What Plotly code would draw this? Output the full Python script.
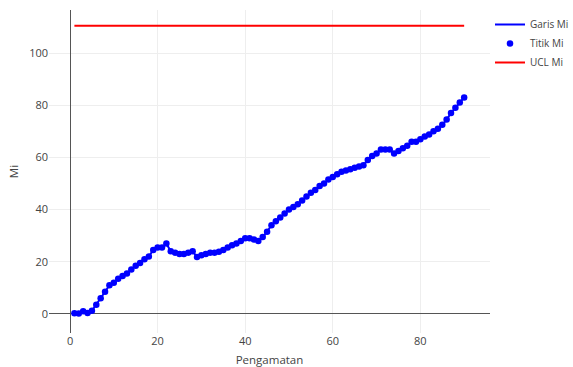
import plotly.graph_objects as go

pengamatan = list(range(1, 91))
mi = [0.3, 0.2, 1.0, 0.4, 1.2, 3.5, 6.0, 8.5, 11.0, 12.0,
      13.5, 14.5, 15.5, 17.0, 18.5, 19.5, 21.0, 22.0, 24.5, 25.5,
      25.5, 27.0, 24.0, 23.5, 23.0, 23.0, 23.5, 24.0, 21.8, 22.5,
      23.0, 23.5, 23.5, 23.8, 24.5, 25.5, 26.3, 27.0, 28.0, 29.0,
      29.0, 28.5, 28.0, 29.5, 31.5, 34.0, 35.5, 37.0, 38.5, 40.0,
      41.0, 42.0, 43.5, 45.0, 46.5, 47.5, 49.0, 50.0, 51.5, 52.5,
      53.5, 54.5, 55.0, 55.5, 56.0, 56.5, 57.0, 59.0, 60.5, 61.5,
      63.0, 63.0, 63.0, 61.5, 62.5, 63.5, 64.5, 66.0, 66.0, 67.0,
      68.0, 68.8, 70.0, 71.0, 72.5, 74.5, 77.0, 79.0, 81.0, 83.0]
ucl_value = 110.5
ucl = [ucl_value] * len(pengamatan)

fig = go.Figure()
fig.add_trace(go.Scatter(x=pengamatan, y=mi, mode="lines", name="Garis Mi",
                         line=dict(color="blue", width=2)))
fig.add_trace(go.Scatter(x=pengamatan, y=mi, mode="markers", name="Titik Mi",
                         marker=dict(color="blue", size=6.5)))
fig.add_trace(go.Scatter(x=pengamatan, y=ucl, mode="lines", name="UCL Mi",
                         line=dict(color="red", width=2)))

fig.update_layout(
    width=573, height=367,
    margin=dict(l=49, r=83, t=10, b=34, autoexpand=False),
    paper_bgcolor="white", plot_bgcolor="white",
    font=dict(family="Open Sans, sans-serif", size=11, color="#444"),
    legend=dict(x=1.0, xanchor="left", y=1, yanchor="top",
                font=dict(size=10)),
)
fig.update_xaxes(title=dict(text="Pengamatan", font=dict(size=11.5)),
                 range=[-4.8, 95.9],
                 automargin=False,
                 showgrid=True, gridcolor="#eeeeee",
                 zeroline=True, zerolinecolor="#555", zerolinewidth=1,
                 tickvals=[0, 20, 40, 60, 80])
fig.update_yaxes(title=dict(text="Mi", font=dict(size=11.5), standoff=8),
                 range=[-7.3, 116.5],
                 automargin=False,
                 showgrid=True, gridcolor="#eeeeee",
                 zeroline=True, zerolinecolor="#555", zerolinewidth=1,
                 tickvals=[0, 20, 40, 60, 80, 100])

fig.write_html(
    "out.html",
    config={"displayModeBar": False},
    post_script="document.body.style.margin='0px';document.body.style.overflow='hidden';",
)
